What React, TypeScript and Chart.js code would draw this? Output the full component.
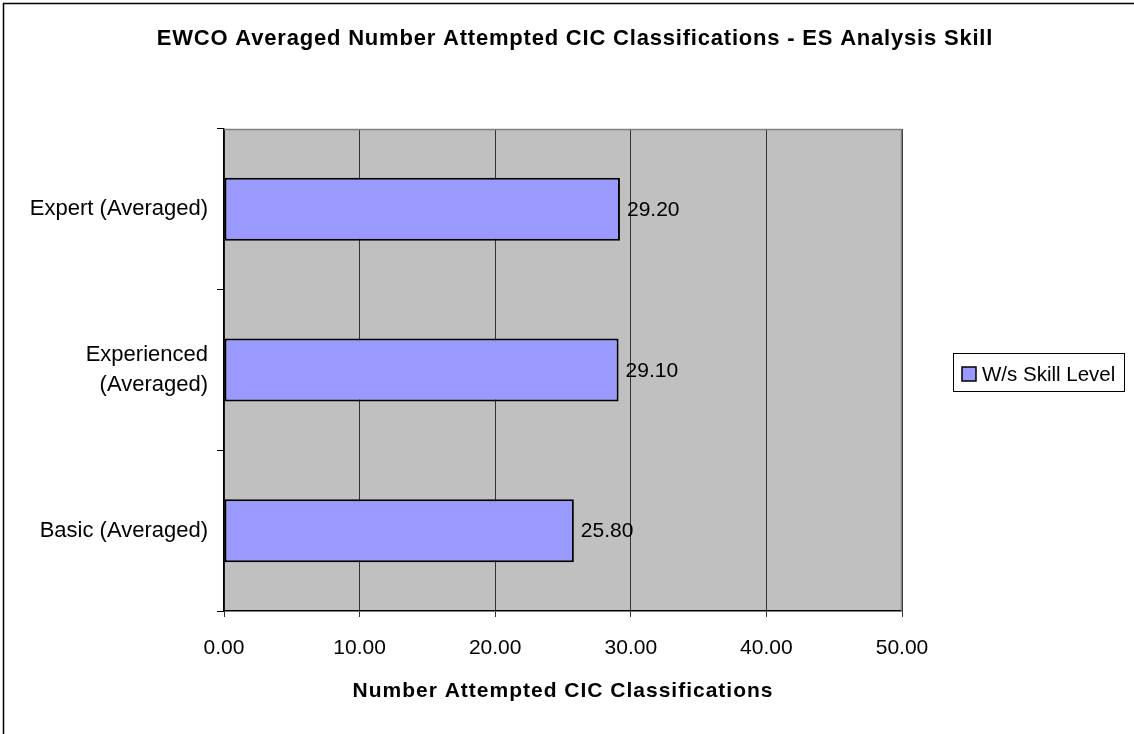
import React, { useEffect, useRef } from "react";
import { Chart, registerables } from "chart.js";

Chart.register(...registerables);

const categories: (string | string[])[] = [
  "Expert (Averaged)",
  ["Experienced", "(Averaged)"],
  "Basic (Averaged)",
];
const values: number[] = [29.2, 29.1, 25.8];
const seriesName = "W/s Skill Level";
const chartTitle = "EWCO Averaged Number Attempted CIC Classifications - ES Analysis Skill";
const xAxisTitle = "Number Attempted CIC Classifications";
const xMin = 0;
const xMax = 50;
const xStep = 10;

const FONT = "'Liberation Sans', Arial, sans-serif";
const BAR_COLOR = "#9999FF";

const decorPlugin = {
  id: "decor",
  beforeDraw(chart: any) {
    const { ctx, chartArea } = chart;
    ctx.save();
    ctx.fillStyle = "#ffffff";
    ctx.fillRect(0, 0, chart.width, chart.height);
    ctx.fillStyle = "#C0C0C0";
    ctx.fillRect(chartArea.left, chartArea.top, chartArea.right - chartArea.left, chartArea.bottom - chartArea.top);
    ctx.strokeStyle = "#000000";
    ctx.lineWidth = 1.5;
    ctx.strokeRect(3.5, 3.5, chart.width + 20, chart.height + 20);
    ctx.restore();
  },
  beforeDatasetsDraw(chart: any) {
    const { ctx, chartArea } = chart;
    ctx.save();
    ctx.strokeStyle = "#808080";
    ctx.lineWidth = 1.5;
    ctx.beginPath();
    ctx.moveTo(chartArea.left, chartArea.top + 0.5);
    ctx.lineTo(chartArea.right - 0.5, chartArea.top + 0.5);
    ctx.lineTo(chartArea.right - 0.5, chartArea.bottom);
    ctx.stroke();
    ctx.restore();
  },
  afterDatasetsDraw(chart: any) {
    const { ctx } = chart;
    const meta = chart.getDatasetMeta(0);
    ctx.save();
    ctx.fillStyle = "#000000";
    ctx.font = `21px ${FONT}`;
    ctx.textAlign = "left";
    ctx.textBaseline = "middle";
    meta.data.forEach((bar: any, i: number) => {
      const v = chart.data.datasets[0].data[i] as number;
      ctx.fillText(v.toFixed(2), bar.x + 7, bar.y + 1);
    });
    ctx.restore();
  },
  afterDraw(chart: any) {
    const { ctx, chartArea } = chart;
    ctx.save();
    ctx.fillStyle = "#000000";
    ctx.textBaseline = "alphabetic";
    ctx.textAlign = "left";
    ctx.font = `bold 22px ${FONT}`;
    (ctx as any).letterSpacing = "0.8px";
    let w = ctx.measureText(chartTitle).width;
    ctx.fillText(chartTitle, 575 - w / 2, 45);
    ctx.font = `bold 21px ${FONT}`;
    (ctx as any).letterSpacing = "1px";
    w = ctx.measureText(xAxisTitle).width;
    const cx = (chartArea.left + chartArea.right) / 2;
    ctx.fillText(xAxisTitle, cx - w / 2, 697);
    (ctx as any).letterSpacing = "0px";
    // legend
    ctx.fillStyle = "#ffffff";
    ctx.fillRect(953, 353, 172, 39);
    ctx.strokeStyle = "#000000";
    ctx.lineWidth = 1;
    ctx.strokeRect(953.5, 353.5, 171, 38);
    ctx.fillStyle = BAR_COLOR;
    ctx.fillRect(962, 367, 14, 14);
    ctx.lineWidth = 1.5;
    ctx.strokeRect(962, 367, 14, 14);
    ctx.fillStyle = "#000000";
    ctx.font = `20.5px ${FONT}`;
    ctx.textBaseline = "middle";
    ctx.fillText(seriesName, 982, 375);
    ctx.restore();
  },
};

export default function App() {
  const canvasRef = useRef<HTMLCanvasElement | null>(null);

  useEffect(() => {
    if (!canvasRef.current) return;
    const chart = new Chart(canvasRef.current, {
      type: "bar",
      data: {
        labels: categories as any,
        datasets: [
          {
            label: seriesName,
            data: values,
            backgroundColor: BAR_COLOR,
            borderColor: "#000000",
            borderWidth: 2,
            borderSkipped: false,
            categoryPercentage: 1,
            barPercentage: 0.392,
          },
        ],
      },
      options: {
        indexAxis: "y",
        responsive: false,
        animation: false,
        devicePixelRatio: 1,
        layout: { padding: { top: 129, right: 232, bottom: 0, left: 0 } },
        plugins: {
          legend: { display: false },
          title: { display: false },
          tooltip: { enabled: false },
        },
        scales: {
          x: {
            type: "linear",
            min: xMin,
            max: xMax,
            ticks: {
              stepSize: xStep,
              color: "#000000",
              font: { family: FONT, size: 21 },
              padding: 19,
              maxRotation: 0,
              callback: (v: any) => Number(v).toFixed(2),
            },
            grid: {
              color: "#333333",
              lineWidth: 1,
              tickLength: 6,
              drawTicks: true,
            },
            border: { display: true, color: "#000000", width: 1.5 },
            afterFit: (scale: any) => {
              scale.height = 123;
            },
          },
          y: {
            type: "category",
            offset: true,
            ticks: {
              color: "#000000",
              font: { family: FONT, size: 22, lineHeight: 1.4 },
              padding: 9,
            },
            grid: {
              drawOnChartArea: false,
              offset: true,
              drawTicks: true,
              tickLength: 7,
              color: "#000000",
            },
            border: { display: true, color: "#000000", width: 1.5 },
            afterFit: (scale: any) => {
              scale.width = 224;
            },
          },
        },
      },
      plugins: [decorPlugin],
    } as any);
    return () => chart.destroy();
  }, []);

  return (
    <div style={{ position: "absolute", left: 0, top: 0, width: 1134, height: 734, background: "#fff" }}>
      <canvas ref={canvasRef} width={1134} height={734} style={{ display: "block" }} />
    </div>
  );
}
